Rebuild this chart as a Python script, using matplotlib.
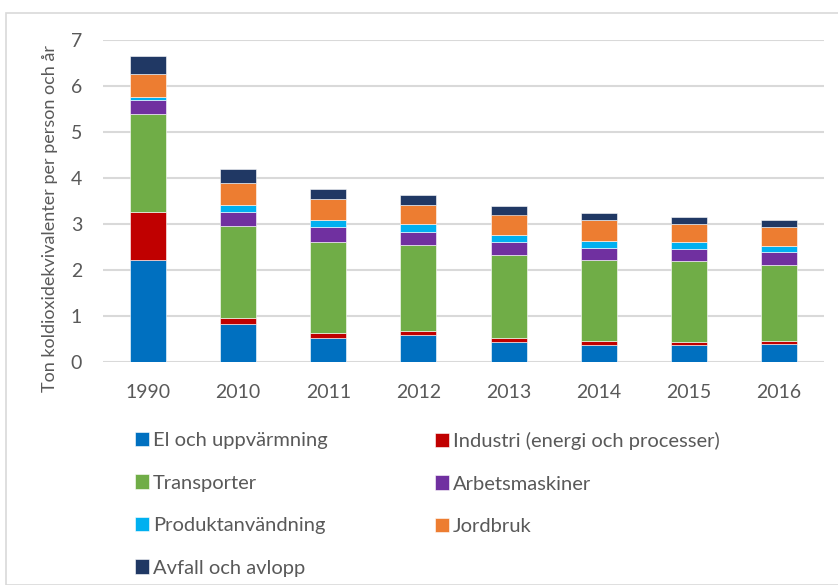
import matplotlib.pyplot as plt
import numpy as np
from matplotlib.patches import Rectangle

# data
years = ['1990', '2010', '2011', '2012', '2013', '2014', '2015', '2016']
el = [2.21, 0.82, 0.52, 0.57, 0.42, 0.37, 0.37, 0.39]
industri = [1.05, 0.13, 0.10, 0.09, 0.09, 0.07, 0.06, 0.07]
transporter = [2.13, 2.01, 1.98, 1.88, 1.80, 1.77, 1.76, 1.64]
arbetsmaskiner = [0.31, 0.30, 0.32, 0.29, 0.29, 0.27, 0.27, 0.28]
produkt = [0.05, 0.14, 0.15, 0.16, 0.15, 0.15, 0.15, 0.14]
jordbruk = [0.50, 0.49, 0.46, 0.42, 0.45, 0.44, 0.39, 0.41]
avfall = [0.39, 0.31, 0.22, 0.21, 0.18, 0.16, 0.14, 0.14]

series = [
    ('El och uppvärmning', el, '#0070c0'),
    ('Industri (energi och processer)', industri, '#c00000'),
    ('Transporter', transporter, '#70ad47'),
    ('Arbetsmaskiner', arbetsmaskiner, '#7030a0'),
    ('Produktanvändning', produkt, '#00b0f0'),
    ('Jordbruk', jordbruk, '#ed7d31'),
    ('Avfall och avlopp', avfall, '#203864'),
]

plt.rcParams['font.family'] = ['Lato', 'DejaVu Sans']
txt = '#595959'

fig = plt.figure(figsize=(8.38, 5.85), dpi=100)
W, H = 838, 585
# plot area in pixels: left 103, right 824, top 39.7, bottom 361.7
ax = fig.add_axes([103 / W, 1 - 361.7 / H, (824 - 103) / W, (361.7 - 39.7) / H])

x = np.arange(len(years))
bottom = np.zeros(len(years))
for name, vals, col in series:
    ax.bar(x, vals, 0.4, bottom=bottom, color=col, label=name,
           edgecolor='white', linewidth=0.4, zorder=3)
    bottom += np.array(vals)

ax.set_xlim(-0.5, len(years) - 0.5)
ax.set_ylim(0, 7)
ax.set_yticks(range(8))
ax.set_xticks(x)
ax.set_xticklabels(years)
ax.yaxis.grid(True, color='#d9d9d9', linewidth=1.5, zorder=0)
ax.set_axisbelow(True)
for s in ax.spines.values():
    s.set_visible(False)
ax.tick_params(length=0, labelsize=14, colors=txt)
ax.tick_params(axis='y', pad=15)
ax.tick_params(axis='x', pad=16)
ax.set_ylabel('Ton koldioxidekvivalenter per person och år', fontsize=13,
              color=txt)
ax.yaxis.set_label_coords(-0.062, 0.445)

# legend below the plot: two separate columns
handles, labels = ax.get_legend_handles_labels()
cols = [([0, 2, 4, 6], 135), ([1, 3, 5], 435)]
for idx, xpx in cols:
    leg = fig.legend([handles[i] for i in idx], [labels[i] for i in idx],
                     loc='upper left', bbox_to_anchor=(xpx / W, 1 - 432 / H),
                     frameon=False, fontsize=14.5, handlelength=0.7,
                     handleheight=0.7, handletextpad=0.2, labelspacing=1.26,
                     borderaxespad=0, borderpad=0)
    for t in leg.get_texts():
        t.set_color(txt)

# light frame around the chart area
fig.patches.append(Rectangle((6 / W, 0), 1, 1 - 13 / H, transform=fig.transFigure,
                             fill=False, edgecolor='#d9d9d9', linewidth=1.2))

fig.savefig('out.png', dpi=100)
